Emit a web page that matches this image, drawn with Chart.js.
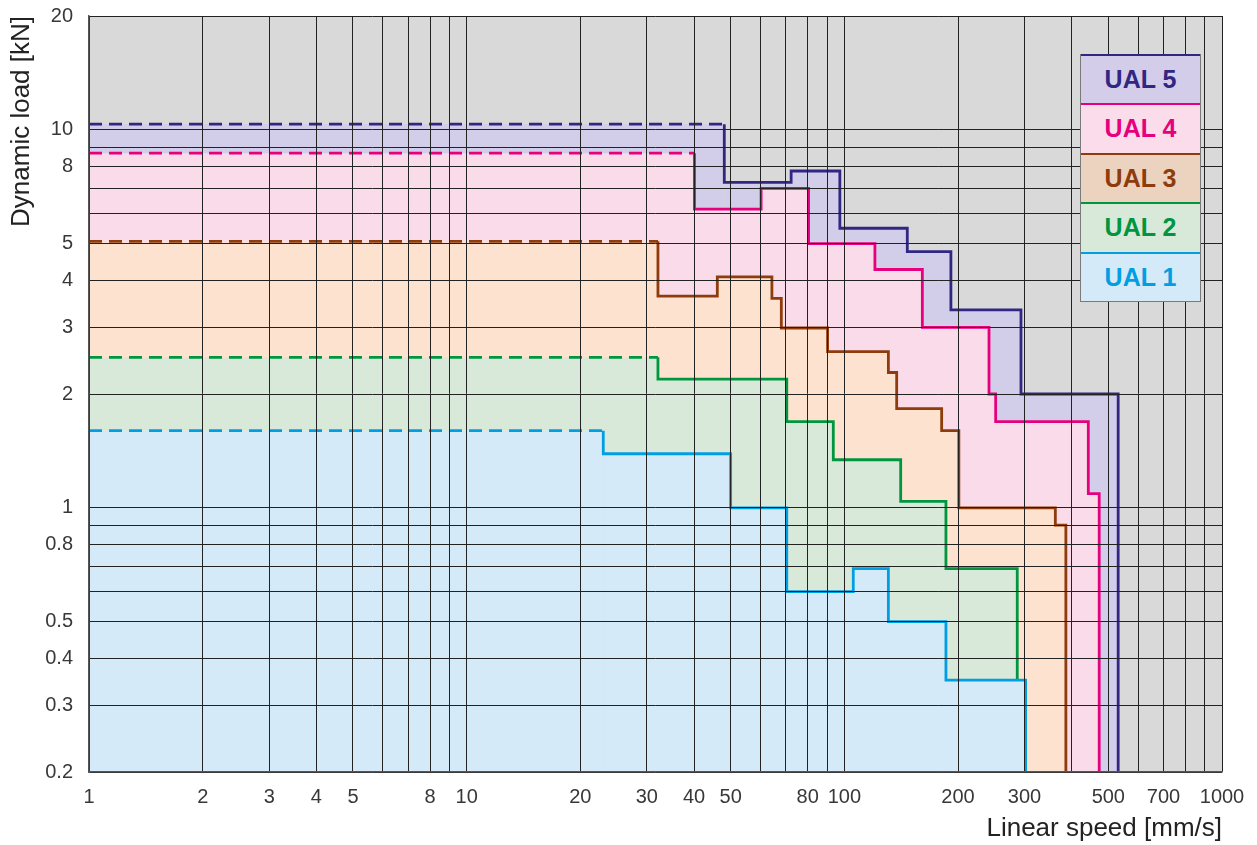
<!DOCTYPE html>
<html lang="en">
<head>
  <meta charset="UTF-8" />
  <title>UAL load vs speed</title>
  <style>
    body { margin: 0; background: #fff; font-family: "Liberation Sans", Arial, sans-serif; }
    .wrap { position: relative; width: 1257px; height: 845px; }
    .legend {
      position: absolute; left: 1080px; top: 54px; width: 121px;
      border: 1.5px solid #7a7a7a; border-top: none; box-sizing: border-box;
    }
    .legend div {
      height: 49.4px; box-sizing: border-box; border-top: 2.5px solid;
      font-weight: bold; font-size: 25px; text-align: center; line-height: 47px;
    }
  </style>
</head>
<body>
  <div class="wrap">
    <canvas id="chart"></canvas>
    <div class="legend" id="legend"></div>
  </div>

  <script src="https://cdn.jsdelivr.net/npm/chart.js"></script>
  <script>
    // step curves: load[i] holds from speed[i] up to speed[i+1]
    const ual1Speed = [1, 23, 50, 70.4, 105.6, 130.8, 185.8, 302];
    const ual1Load  = [1.6, 1.39, 1.0, 0.6, 0.69, 0.5, 0.35];
    const ual2Speed = [1, 32.1, 70.4, 93.5, 141, 185.8, 287];
    const ual2Load  = [2.5, 2.19, 1.69, 1.34, 1.04, 0.69];
    const ual3Speed = [1, 32.1, 46.1, 64.3, 68.1, 90.3, 130.8, 137.6, 181, 201, 362, 386];
    const ual3Load  = [5.07, 3.63, 4.08, 3.58, 2.99, 2.59, 2.28, 1.83, 1.6, 1.0, 0.9];
    const ual4Speed = [1, 40.1, 60.2, 80.4, 120.5, 160.9, 241.6, 251.6, 442.6, 473];
    const ual4Load  = [8.67, 6.17, 7.0, 5.0, 4.27, 3.0, 2.0, 1.69, 1.09];
    const ual5Speed = [1, 48.1, 72.3, 97.3, 146.8, 191.5, 293.6, 531];
    const ual5Load  = [10.35, 7.26, 7.78, 5.49, 4.76, 3.34, 2.0];
    // where each curve's last vertical drop ends (UAL 2 runs into UAL 1)
    const endLoad = [0.2, 0.35, 0.2, 0.2, 0.2];

    const seriesNames = ["UAL 1", "UAL 2", "UAL 3", "UAL 4", "UAL 5"];
    const lineColors = ["#009fe3", "#009640", "#8f3c0c", "#e6007e", "#312783"];
    const fillColors = ["#d4eaf9", "#d8e9d9", "#fde2cf", "#fadbe9", "#d2cde8"];
    const legendFills = ["#d4eaf9", "#d8e9da", "#ebd3c0", "#fadcea", "#d3cde9"];

    const xGrid = [1,2,3,4,5,6,7,8,9,10,20,30,40,50,60,70,80,90,100,200,300,400,500,600,700,800,900,1000];
    const xLabels = [1,2,3,4,5,8,10,20,30,40,50,80,100,200,300,500,700,1000];
    const yGrid = [0.2,0.3,0.4,0.5,0.6,0.7,0.8,0.9,1,2,3,4,5,6,7,8,9,10,20];
    const yLabels = [0.2,0.3,0.4,0.5,0.8,1,2,3,4,5,8,10,20];

    function stepPoints(speed, load, end) {
      const pts = [{ x: speed[0], y: load[0] }, { x: speed[1], y: load[0] }];
      for (let i = 1; i < load.length; i++) pts.push({ x: speed[i], y: load[i] });
      pts.push({ x: speed[speed.length - 1], y: end });
      return pts;
    }

    const curves = [
      stepPoints(ual1Speed, ual1Load, endLoad[0]),
      stepPoints(ual2Speed, ual2Load, endLoad[1]),
      stepPoints(ual3Speed, ual3Load, endLoad[2]),
      stepPoints(ual4Speed, ual4Load, endLoad[3]),
      stepPoints(ual5Speed, ual5Load, endLoad[4])
    ];

    const areaBg = {
      id: "areaBg",
      beforeDraw(chart) {
        const { ctx, chartArea: a } = chart;
        ctx.save();
        ctx.fillStyle = "#d9d9d9";
        ctx.fillRect(a.left, a.top, a.right - a.left, a.bottom - a.top);
        ctx.restore();
      }
    };

    // grid sits above the fills, so put the curves back on top of it
    const linesOnTop = {
      id: "linesOnTop",
      afterDraw(chart) {
        const { ctx, chartArea: a } = chart;
        ctx.save();
        ctx.beginPath();
        ctx.rect(a.left - 2, a.top, a.right - a.left + 4, a.bottom - a.top + 1);
        ctx.clip();
        const metas = chart.getSortedVisibleDatasetMetas();
        for (let i = metas.length - 1; i >= 0; i--) metas[i].dataset.draw(ctx, a);
        ctx.restore();
      }
    };

    const tickFont = { family: "Liberation Sans", size: 20 };
    const titleFont = { family: "Liberation Sans", size: 26 };

    new Chart(document.getElementById("chart"), {
      type: "line",
      data: {
        datasets: curves.map((pts, i) => ({
          label: seriesNames[i],
          data: pts,
          borderColor: lineColors[i],
          backgroundColor: fillColors[i],
          borderWidth: 2.8,
          pointRadius: 0,
          stepped: true,
          fill: "start",
          segment: {
            borderDash: ctx => ctx.p0DataIndex === 0 ? [13, 7] : undefined
          }
        }))
      },
      options: {
        responsive: true,
        maintainAspectRatio: false,
        animation: false,
        layout: { padding: { top: 16, right: 35, left: 0, bottom: 0 } },
        plugins: { legend: { display: false }, tooltip: { enabled: false } },
        scales: {
          x: {
            type: "logarithmic",
            min: 1,
            max: 1000,
            afterFit: s => {
              s.height = 73;
              s.paddingLeft = 0; s.paddingRight = 0;
            },
            afterBuildTicks: s => { s.ticks = xGrid.map(v => ({ value: v })); },
            grid: { color: "#222", lineWidth: 1, drawTicks: false, z: 1 },
            border: { color: "#555", width: 1.5, z: 2 },
            ticks: {
              autoSkip: false, maxRotation: 0, minRotation: 0, padding: 13,
              color: "#383838", font: tickFont,
              callback: v => xLabels.includes(v) ? String(v) : ""
            },
            title: {
              display: true, text: "Linear speed [mm/s]", align: "end",
              color: "#222", font: titleFont, padding: { top: 0, bottom: 1 }
            }
          },
          y: {
            type: "logarithmic",
            min: 0.2,
            max: 20,
            afterFit: s => {
              s.width = 89;
              s.paddingTop = 0; s.paddingBottom = 0;
            },
            afterBuildTicks: s => { s.ticks = yGrid.map(v => ({ value: v })); },
            grid: { color: "#222", lineWidth: 1, drawTicks: false, z: 1 },
            border: { color: "#555", width: 1.5, z: 2 },
            ticks: {
              autoSkip: false, padding: 16, color: "#383838", font: tickFont,
              callback: v => yLabels.includes(v) ? String(v) : ""
            },
            title: {
              display: true, text: "Dynamic load [kN]", align: "end",
              color: "#222", font: titleFont, padding: { top: 6, bottom: 0 }
            }
          }
        }
      },
      plugins: [areaBg, linesOnTop]
    });

    // legend box, top row is UAL 5
    const legend = document.getElementById("legend");
    for (let i = seriesNames.length - 1; i >= 0; i--) {
      const cell = document.createElement("div");
      cell.textContent = seriesNames[i];
      cell.style.color = lineColors[i];
      cell.style.background = legendFills[i];
      cell.style.borderTopColor = lineColors[i];
      legend.appendChild(cell);
    }
  </script>
</body>
</html>
